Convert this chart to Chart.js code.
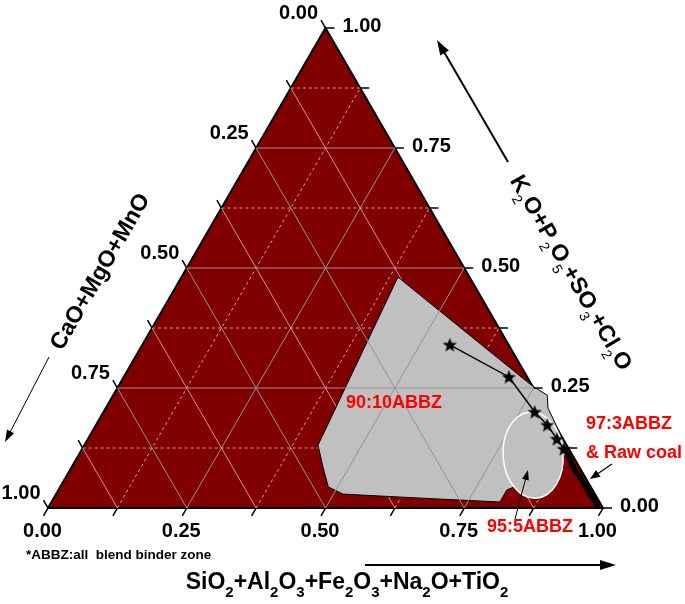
<!DOCTYPE html>
<html>
<head>
<meta charset="utf-8">
<script src="https://cdn.jsdelivr.net/npm/chart.js@4.4.1/dist/chart.umd.min.js"></script>
<style>
  html, body { margin: 0; padding: 0; background: #fff; }
  canvas { display: block; }
</style>
</head>
<body>
<canvas id="chart" width="685" height="604"></canvas>
<script>
// a = CaO+MgO+MnO (bottom-left corner), b = SiO2+... (bottom-right), c = K2O+... (top)
const tickSteps = [0, 0.125, 0.25, 0.375, 0.5, 0.625, 0.75, 0.875, 1];
const labelSteps = [0, 0.25, 0.5, 0.75, 1];
const tickLabels = ["0.00", "0.25", "0.50", "0.75", "1.00"];
const majorGrid = [0.25, 0.5, 0.75];
const minorGrid = [0.125, 0.375, 0.625, 0.875];

// 90:10 ABBZ zone outline
const zone90SiO2 = [0.390, 0.746, 0.782, 0.797, 0.869, 0.876, 0.839, 0.808, 0.808, 0.654, 0.517, 0.483, 0.453, 0.421];
const zone90K2O = [0.481, 0.254, 0.235, 0.208, 0.129, 0.100, 0.058, 0.0375, 0.0125, 0.021, 0.029, 0.044, 0.085, 0.131];

// 95:5 ABBZ zone: centre (SiO2, K2O) and half extents on the x / height axes
const zone95Centre = [0.819, 0.110];
const zone95Extent = [0.054, 0.090];

// blend trend (stars)
const blendSiO2 = [0.554, 0.694, 0.777, 0.813, 0.845, 0.868];
const blendK2O = [0.340, 0.273, 0.200, 0.173, 0.144, 0.123];

// 97:3 ABBZ & raw coal
const coalSiO2 = [0.878, 0.891, 0.902, 0.914, 0.926, 0.937, 0.950, 0.962, 0.974, 0.986];
const coalK2O = [0.115, 0.100, 0.088, 0.075, 0.065, 0.054, 0.042, 0.029, 0.019, 0.006];

const FONT = '"Liberation Sans", Arial, sans-serif';

const toXY = (b, c) => ({ x: b + c / 2, y: c });
const zip = (bs, cs) => bs.map((b, i) => toXY(b, cs[i]));

const makeStar = (r) => {
  const cv = document.createElement("canvas");
  const s = Math.ceil(r * 2 + 2);
  cv.width = cv.height = s;
  const g = cv.getContext("2d");
  g.translate(s / 2, s / 2 + r * 0.08);
  g.beginPath();
  for (let i = 0; i < 10; i++) {
    const rr = i % 2 ? r * 0.42 : r;
    const ang = -Math.PI / 2 + (i * Math.PI) / 5;
    g.lineTo(rr * Math.cos(ang), rr * Math.sin(ang));
  }
  g.closePath();
  g.fillStyle = "#000";
  g.fill();
  return cv;
};

const lineSet = (label, data, color, width, order, dash) => ({
  label: label,
  data: data,
  showLine: true,
  borderColor: color,
  borderWidth: width,
  borderDash: dash || [],
  pointRadius: 0,
  fill: false,
  clip: false,
  order: order,
});

const datasets = [];

// triangle body
datasets.push({
  ...lineSet("Triangle", [toXY(0, 0), toXY(1, 0), toXY(0, 1), toXY(0, 0)], "#000", 2, 20),
  fill: "shape",
  backgroundColor: "#800000",
});

// minor grid
minorGrid.forEach((v) => {
  datasets.push(lineSet("minor c", [toXY(0, v), toXY(1 - v, v)], "rgba(255,225,225,0.7)", 1, 18, [3, 3]));
  datasets.push(lineSet("minor b", [toXY(v, 0), toXY(v, 1 - v)], "rgba(255,225,225,0.7)", 1, 18, [3, 3]));
  datasets.push(lineSet("minor a", [toXY(1 - v, 0), toXY(0, 1 - v)], "rgba(255,225,225,0.65)", 1, 18));
});

// 90:10 ABBZ zone
const zoneOutline = zip(zone90SiO2, zone90K2O);
zoneOutline.push(zoneOutline[0]);
datasets.push({
  ...lineSet("90:10ABBZ", zoneOutline, "#000", 1, 16),
  fill: "shape",
  backgroundColor: "#c0c0c0",
});

// major grid
majorGrid.forEach((v) => {
  datasets.push(lineSet("major c", [toXY(0, v), toXY(1 - v, v)], "#939393", 1, 14));
  datasets.push(lineSet("major b", [toXY(v, 0), toXY(v, 1 - v)], "#939393", 1, 14));
  datasets.push(lineSet("major a", [toXY(1 - v, 0), toXY(0, 1 - v)], "#939393", 1, 14));
});

// blend trend
datasets.push({
  ...lineSet("Blend path", zip(blendSiO2, blendK2O), "#000", 1.5, 10),
  pointStyle: makeStar(7.5),
  pointRadius: 1,
});

// 97:3 & raw coal
datasets.push({
  ...lineSet("Raw coal", zip(coalSiO2, coalK2O), "#000", 5, 8),
  pointStyle: makeStar(4.5),
  pointRadius: 1,
});

const drawRich = (ctx, parts, x, y, angle, size, subSize, subBold) => {
  ctx.save();
  ctx.translate(x, y);
  ctx.rotate(angle);
  const mainFont = "bold " + size + "px " + FONT;
  const subFont = (subBold ? "bold " : "") + subSize + "px " + FONT;
  let total = 0;
  parts.forEach((p) => {
    ctx.font = p.sub ? subFont : mainFont;
    total += ctx.measureText(p.t).width;
  });
  let cx = -total / 2;
  const base = size * 0.36;
  ctx.textAlign = "left";
  ctx.textBaseline = "alphabetic";
  ctx.fillStyle = "#000";
  parts.forEach((p) => {
    ctx.font = p.sub ? subFont : mainFont;
    ctx.fillText(p.t, cx, p.sub ? base + size * 0.33 : base);
    cx += ctx.measureText(p.t).width;
  });
  ctx.restore();
};

const rich = (s) =>
  s.split(/(_\d)/).filter((t) => t).map((t) => (t[0] === "_" ? { t: t.slice(1), sub: true } : { t: t, sub: false }));

const arrow = (ctx, x1, y1, x2, y2, width, headLen, headHalf) => {
  const ang = Math.atan2(y2 - y1, x2 - x1);
  ctx.save();
  ctx.strokeStyle = "#000";
  ctx.fillStyle = "#000";
  ctx.lineWidth = width;
  ctx.beginPath();
  ctx.moveTo(x1, y1);
  ctx.lineTo(x2 - Math.cos(ang) * headLen * 0.8, y2 - Math.sin(ang) * headLen * 0.8);
  ctx.stroke();
  ctx.translate(x2, y2);
  ctx.rotate(ang);
  ctx.beginPath();
  ctx.moveTo(0, 0);
  ctx.lineTo(-headLen, headHalf);
  ctx.lineTo(-headLen, -headHalf);
  ctx.closePath();
  ctx.fill();
  ctx.restore();
};

const ternaryDecor = {
  id: "ternaryDecor",
  beforeDatasetDraw(chart, args) {
    if (chart.data.datasets[args.index].label !== "Blend path") return;
    const { ctx, scales } = chart;
    const p = toXY(zone95Centre[0], zone95Centre[1]);
    const cx = scales.x.getPixelForValue(p.x);
    const cy = scales.y.getPixelForValue(p.y);
    const rx = scales.x.getPixelForValue(p.x + zone95Extent[0]) - cx;
    const ry = cy - scales.y.getPixelForValue(p.y + zone95Extent[1]);
    ctx.save();
    ctx.beginPath();
    ctx.ellipse(cx, cy, rx, ry, -0.08, 0, Math.PI * 2);
    ctx.fillStyle = "#c0c0c0";
    ctx.fill();
    ctx.strokeStyle = "#fff";
    ctx.lineWidth = 1.5;
    ctx.stroke();
    ctx.restore();
  },
  afterDraw(chart) {
    const { ctx, scales } = chart;
    const px = (pt) => ({ x: scales.x.getPixelForValue(pt.x), y: scales.y.getPixelForValue(pt.y) });
    const tickLen = 9;
    const s60 = Math.sin(Math.PI / 3);
    ctx.save();
    ctx.strokeStyle = "#000";
    ctx.lineWidth = 1.5;
    ctx.fillStyle = "#000";
    ctx.font = "bold 20px " + FONT;
    tickSteps.forEach((v) => {
      // bottom axis (SiO2...)
      const pb = px(toXY(v, 0));
      const eb = { x: pb.x - 0.5 * tickLen, y: pb.y + s60 * tickLen };
      // right axis (K2O...)
      const pr = px(toXY(1 - v, v));
      const er = { x: pr.x + tickLen, y: pr.y };
      // left axis (CaO...)
      const pl = px(toXY(0, 1 - v));
      const el = { x: pl.x - 0.5 * tickLen, y: pl.y - s60 * tickLen };
      [[pb, eb], [pr, er], [pl, el]].forEach(([a, b]) => {
        ctx.beginPath();
        ctx.moveTo(a.x, a.y);
        ctx.lineTo(b.x, b.y);
        ctx.stroke();
      });
      const li = labelSteps.indexOf(v);
      if (li < 0) return;
      ctx.textBaseline = "middle";
      ctx.textAlign = "center";
      ctx.fillText(tickLabels[li], eb.x - 1, eb.y + 16);
      ctx.textAlign = "left";
      ctx.fillText(tickLabels[li], er.x + 8, er.y - 2);
      ctx.textAlign = "right";
      ctx.fillText(tickLabels[li], el.x - 3, el.y - 7);
    });

    // axis titles
    drawRich(ctx, rich("SiO_2+Al_2O_3+Fe_2O_3+Na_2O+TiO_2"), 347, 581, 0, 23, 15, true);
    drawRich(ctx, rich("K_2O+P_2O_5+SO_3+Cl_2O"), 572, 272, Math.PI / 3, 23, 14, false);
    drawRich(ctx, rich("CaO+MgO+MnO"), 99, 271, -Math.PI / 3, 23, 14, true);

    // direction arrows
    arrow(ctx, 365, 565, 616, 565, 2, 16, 5);
    arrow(ctx, 508, 162, 437, 40, 2, 15, 5);
    arrow(ctx, 49, 357, 5, 442, 1, 12, 4);

    // notes
    ctx.textBaseline = "middle";
    ctx.textAlign = "left";
    ctx.font = "bold 13.5px " + FONT;
    ctx.fillText("*ABBZ:all  blend binder zone", 26, 555);

    ctx.fillStyle = "#ff0000";
    ctx.font = "bold 18px " + FONT;
    ctx.textAlign = "center";
    ctx.fillText("90:10ABBZ", 394, 403);
    ctx.fillText("95:5ABBZ", 530, 527);
    ctx.textAlign = "left";
    ctx.fillText("97:3ABBZ", 586, 424);
    ctx.fillText("& Raw coal", 586, 453);

    arrow(ctx, 515, 519, 528, 470, 1, 10, 3.5);
    arrow(ctx, 612, 464, 590, 479, 1.2, 10, 4);
    ctx.restore();
  },
};

const ctx = document.getElementById("chart");
const chart = new Chart(ctx, {
  type: "scatter",
  data: { datasets: datasets },
  options: {
    responsive: false,
    animation: false,
    events: [],
    layout: { padding: { left: 48, right: 82, top: 28, bottom: 96 } },
    elements: { line: { tension: 0 } },
    scales: {
      x: { type: "linear", min: 0, max: 1, display: false },
      y: { type: "linear", min: 0, max: 1, display: false },
    },
    plugins: {
      legend: { display: false },
      tooltip: { enabled: false },
      filler: { drawTime: "beforeDatasetDraw" },
    },
  },
  plugins: [ternaryDecor],
});
</script>
</body>
</html>
